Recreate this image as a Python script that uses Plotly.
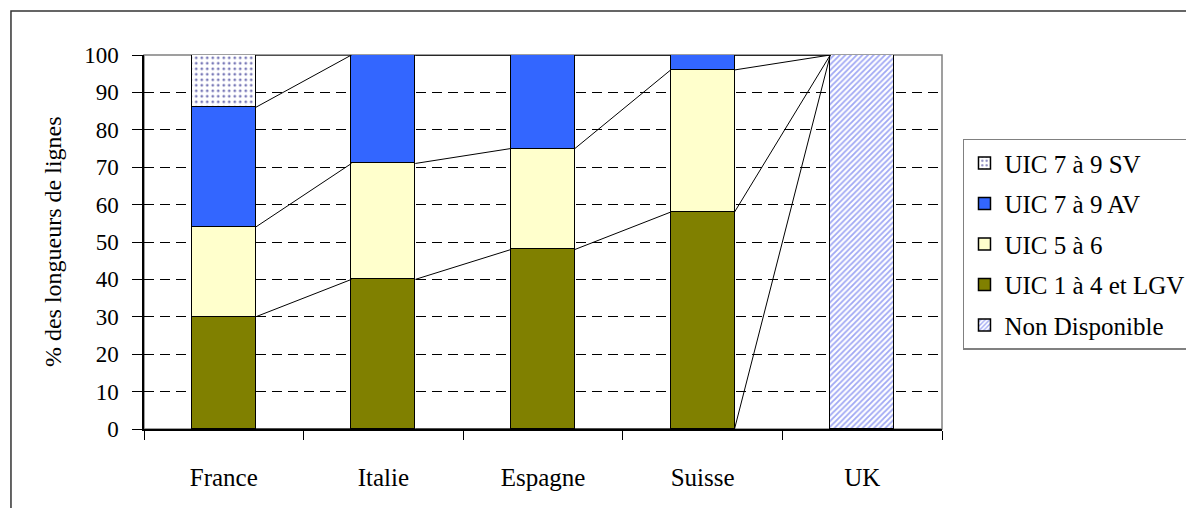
import plotly.graph_objects as go

# Réseaux ferrés : répartition des longueurs de lignes par groupe UIC
pays = ["France", "Italie", "Espagne", "Suisse", "UK"]

non_disponible = [0, 0, 0, 0, 100]
uic_1_4_lgv = [30, 40, 48, 58, 0]
uic_5_6 = [24, 31, 27, 38, 0]
uic_7_9_av = [32, 29, 25, 4, 0]
uic_7_9_sv = [14, 0, 0, 0, 0]

y_ticks = [0, 10, 20, 30, 40, 50, 60, 70, 80, 90, 100]

FONT = "Liberation Serif"
FS = 25
BAR_W = 0.4

# Ordre d'empilement, du bas vers le haut
series = [
    ("Non Disponible", non_disponible,
     dict(color="white", line=dict(color="black", width=1.5),
          pattern=dict(shape="/", fgcolor="#a0a8f4", bgcolor="white",
                       size=4, solidity=0.45, fillmode="replace"))),
    ("UIC 1 à 4 et LGV", uic_1_4_lgv,
     dict(color="#808000", line=dict(color="black", width=1.5))),
    ("UIC 5 à 6", uic_5_6,
     dict(color="#FFFFCC", line=dict(color="black", width=1.5))),
    ("UIC 7 à 9 AV", uic_7_9_av,
     dict(color="#3366FF", line=dict(color="black", width=1.5))),
    ("UIC 7 à 9 SV", uic_7_9_sv,
     dict(color="white", line=dict(color="black", width=1.5),
          pattern=dict(shape=".", fgcolor="#7a7ab8", bgcolor="white",
                       size=5.5, solidity=0.2, fillmode="replace"))),
]

x_pos = list(range(len(pays)))

fig = go.Figure()

for rank, (name, vals, marker) in enumerate(series):
    fig.add_trace(go.Bar(
        x=x_pos, y=[v if v else None for v in vals], name=name,
        width=BAR_W, marker=marker, legendgroup=name,
        legendrank=len(series) - rank,
    ))

# Lignes de liaison entre les sommets de chaque série empilée
cumul = [0] * len(pays)
lx, ly = [], []
for name, vals, marker in series:
    cumul = [c + v for c, v in zip(cumul, vals)]
    for i in range(len(pays) - 1):
        lx += [x_pos[i] + BAR_W / 2, x_pos[i + 1] - BAR_W / 2, None]
        ly += [cumul[i], cumul[i + 1], None]

fig.add_trace(go.Scatter(
    x=lx, y=ly, mode="lines", line=dict(color="black", width=1),
    showlegend=False, hoverinfo="skip",
))

# Cadre de la zone de tracé
fig.add_shape(type="rect", xref="paper", yref="paper", x0=0, x1=1, y0=0, y1=1,
              line=dict(color="#808080", width=1.5), layer="between")
# Cadre extérieur du graphique
fig.add_shape(type="rect", xref="paper", yref="paper",
              x0=-0.1667, x1=1.6, y0=-0.6, y1=1.1176,
              line=dict(color="#333333", width=1.5), layer="below")

fig.add_annotation(
    text="% des longueurs de lignes", textangle=-90,
    xref="paper", yref="paper", x=-0.114, y=0.50,
    xanchor="center", yanchor="middle",
    showarrow=False, font=dict(family=FONT, size=24, color="black"),
)

fig.update_layout(
    width=1186, height=508,
    margin=dict(l=144, r=244, t=55, b=79, autoexpand=False),
    paper_bgcolor="white", plot_bgcolor="white",
    barmode="stack", bargap=0,
    font=dict(family=FONT, size=FS, color="black"),
    showlegend=True,
    legend=dict(
        x=1.0263, y=0.776, xanchor="left", yanchor="top",
        bordercolor="#808080", borderwidth=1.5, bgcolor="white",
        traceorder="grouped", tracegroupgap=5,
        font=dict(family=FONT, size=FS, color="black"),
    ),
    xaxis=dict(
        range=[-0.5, len(pays) - 0.5],
        tickmode="array", tickvals=x_pos, ticktext=pays,
        ticks="", ticklabelstandoff=25,
        showline=True, linecolor="black", linewidth=1.5,
        showgrid=False, zeroline=False,
        minor=dict(tickmode="array",
                   tickvals=[p - 0.5 for p in x_pos] + [x_pos[-1] + 0.5],
                   ticks="outside", ticklen=9, tickcolor="black",
                   tickwidth=1, showgrid=False),
    ),
    yaxis=dict(
        range=[0, 100], tickmode="array", tickvals=y_ticks,
        ticks="outside", ticklen=10, tickcolor="black", tickwidth=1,
        showline=True, linecolor="black", linewidth=1.5,
        showgrid=True, gridcolor="black", gridwidth=1, griddash="10px,6px",
        zeroline=False, ticklabelstandoff=9,
        tickfont=dict(family=FONT, size=23),
    ),
)

fig.write_html("out.html")
